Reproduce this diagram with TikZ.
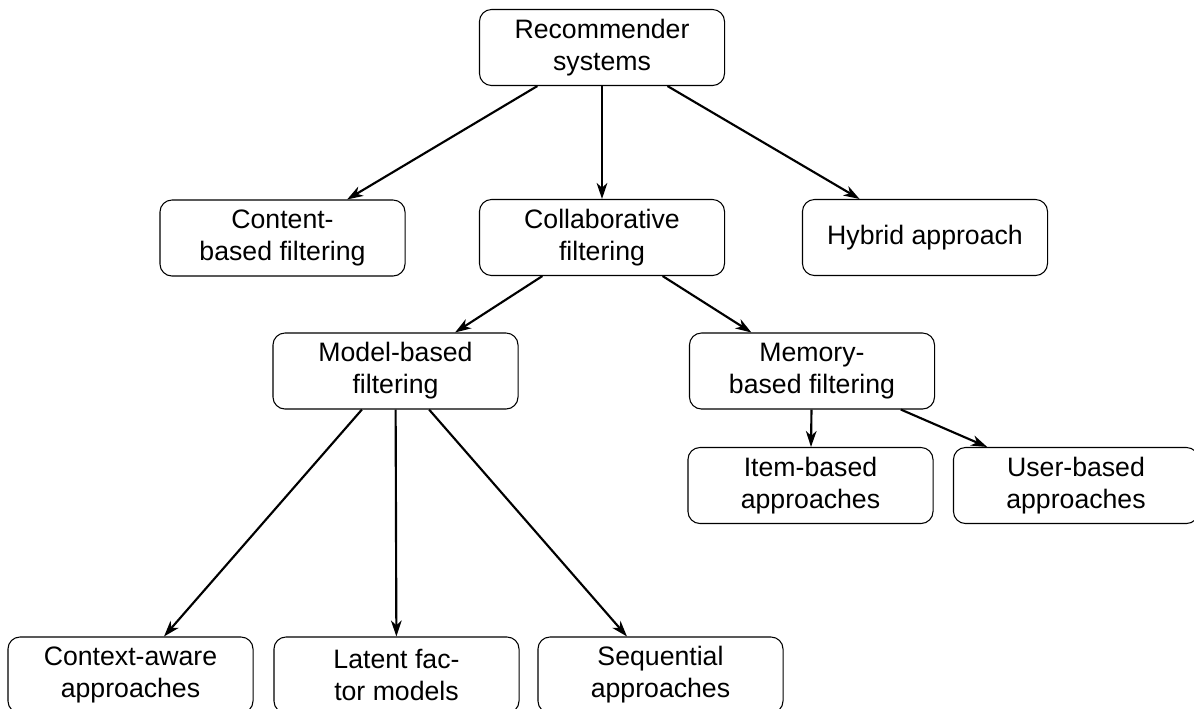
\documentclass[tikz,border=0pt]{standalone}
\usepackage{fontspec}
\setmainfont{Liberation Sans}
\usetikzlibrary{arrows.meta,positioning}

\begin{document}
\begin{tikzpicture}[->,>={Stealth[length=6pt,width=4pt,inset=1.8pt]},thick,x=0.375pt,y=-0.375pt]
        \tikzstyle{block} = [rectangle, draw, thin, rounded corners=4.5pt, minimum width=91.9pt, minimum height=28.5pt, align=center, inner sep=2pt]
        \useasboundingbox (0,0) rectangle (1194,708);

        % Nodes
        \node[block] (rs) at (602,47.5) {Recommender\\systems};
        \node[block] (cbf) at (282.5,238) {Content-\\based filtering};
        \node[block] (cf) at (602,237.5) {Collaborative\\filtering};
        \node[block] (ha) at (925,237.5) {Hybrid approach};
        \node[block] (mbf) at (395.5,371) {Model-based\\filtering};
        \node[block] (memf) at (812,371) {Memory-\\based filtering};
        \node[block] (ib) at (810.5,485.5) {Item-based\\approaches};
        \node[block] (ub) at (1076,485.5) {User-based\\approaches};
        \node[block] (ca) at (130.5,675) {Context-aware\\approaches};
        \node[block] (lf) at (396.5,675) {Latent fac-\\tor models};
        \node[block] (sq) at (660.5,675) {Sequential\\approaches};

        % Edges
        \path (rs) edge (cbf);
        \path (rs) edge (cf);
        \path (rs) edge (ha);
        \path (cf) edge (mbf);
        \path (cf) edge (memf);
        \path (memf) edge (ib);
        \path (memf) edge (ub);
        \path (mbf) edge (ca);
        \path (mbf) edge (lf);
        \path (mbf) edge (sq);
\end{tikzpicture}
\end{document}
